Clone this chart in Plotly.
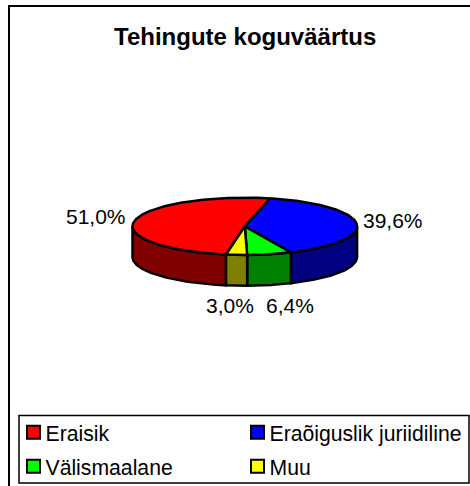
import math
import plotly.graph_objects as go

categories = ["Eraisik", "Eraõiguslik juriidiline", "Välismaalane", "Muu"]
values = [51.0, 39.6, 6.4, 3.0]
top_colors = ["#ff0000", "#0000ff", "#00ff00", "#ffff00"]
side_colors = ["#800000", "#000080", "#008000", "#808000"]
title = "Tehingute koguväärtus"

W, H = 470, 486
CX, CY, A, B, DEPTH = 244.8, 226.3, 112.3, 28.6, 30.8
START_BLUE = 13.2
FONT = "Liberation Sans, Arial, sans-serif"


def pt(deg, dy=0):
    r = math.radians(deg)
    return CX + A * math.sin(r), CY - B * math.cos(r) + dy


def arc(a0, a1, dy=0):
    n = max(2, int(abs(a1 - a0)) + 2)
    return [pt(a0 + (a1 - a0) * i / (n - 1), dy) for i in range(n)]


# slice angle spans, clockwise, red ends where blue starts
spans = []
ang = START_BLUE - values[0] * 3.6
for v in values:
    spans.append((ang, ang + v * 3.6))
    ang += v * 3.6
fig = go.Figure()

# side walls (front half of the disc only, 90..270)
for (a0, a1), col in zip(spans, side_colors):
    parts = []
    for shift in (0, 360):
        lo, hi = max(a0 + shift, 90), min(a1 + shift, 270)
        if hi > lo:
            parts.append((lo, hi))
    for lo, hi in parts:
        p = arc(lo, hi) + arc(hi, lo, DEPTH)
        p.append(p[0])
        fig.add_trace(go.Scatter(x=[q[0] for q in p], y=[q[1] for q in p], mode="lines",
                                 fill="toself", fillcolor=col, showlegend=False, hoverinfo="skip",
                                 line=dict(color="black", width=2.5)))

# top faces
for (a0, a1), col in zip(spans, top_colors):
    p = [(CX, CY)] + arc(a0, a1) + [(CX, CY)]
    fig.add_trace(go.Scatter(x=[q[0] for q in p], y=[q[1] for q in p], mode="lines",
                             fill="toself", fillcolor=col, showlegend=False, hoverinfo="skip",
                             line=dict(color="black", width=2.5)))

# legend entries
legend_names = ["legend", "legend2", "legend3", "legend4"]
legend_pos = [(13.5, 412), (237.5, 412), (13.5, 446), (237.5, 446)]
layout_legends = {}
for lname, (lx, ly), cat, col in zip(legend_names, legend_pos, categories, top_colors):
    fig.add_trace(go.Scatter(x=[None], y=[None], mode="markers", name=cat, legend=lname,
                             marker=dict(symbol="square", size=13, color=col,
                                         line=dict(color="black", width=2))))
    layout_legends[lname] = dict(x=lx / W, y=1 - ly / H, xanchor="left", yanchor="top",
                                 bgcolor="rgba(0,0,0,0)", itemclick=False,
                                 font=dict(family=FONT, size=21.2, color="black"))

labels = [f"{v:.1f}".replace(".", ",") + "%" for v in values]
label_xy = [(96, 216), (393, 220), (289.5, 305), (230, 305)]
annotations = [dict(x=x, y=y, xref="x", yref="y", text=t, showarrow=False,
                    font=dict(family=FONT, size=21, color="black"))
               for t, (x, y) in zip(labels, label_xy)]
annotations.append(dict(x=244.5, y=36, xref="x", yref="y", text="<b>" + title + "</b>", showarrow=False,
                        font=dict(family=FONT, size=24, color="black")))

shapes = [
    dict(type="rect", xref="x", yref="y", x0=9, y0=6, x1=473, y1=490,
         line=dict(color="black", width=2), layer="below"),
    dict(type="rect", xref="x", yref="y", x0=19, y0=415.5, x1=469, y1=483,
         line=dict(color="black", width=1.5), layer="below"),
]

fig.update_layout(width=W, height=H, margin=dict(l=0, r=0, t=0, b=0, autoexpand=False),
                  paper_bgcolor="white", plot_bgcolor="white",
                  xaxis=dict(range=[0, W], visible=False, fixedrange=True),
                  yaxis=dict(range=[H, 0], visible=False, fixedrange=True),
                  annotations=annotations, shapes=shapes, **layout_legends)
post = """
document.body.style.margin='0';document.body.style.overflow='hidden';
document.querySelectorAll('text.legendtext,text.legend2text,text.legend3text,text.legend4text')
  .forEach(function(t){t.setAttribute('x','32');});
"""
fig.write_html("out.html", config=dict(displayModeBar=False), post_script=post)
